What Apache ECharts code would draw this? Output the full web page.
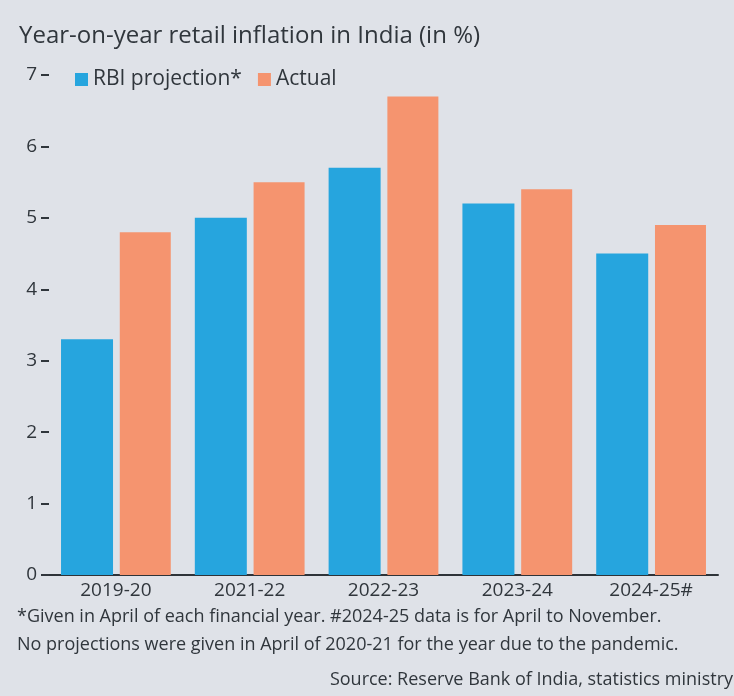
<!DOCTYPE html>
<html>
<head>
<meta charset="utf-8">
<script src="https://cdn.jsdelivr.net/npm/echarts@6/dist/echarts.min.js"></script>
<style>
  html, body { margin: 0; padding: 0; background: #dfe2e8; }
  #chart { width: 734px; height: 696px; }
</style>
</head>
<body>
<div id="chart"></div>
<script>
// Financial years shown on the category axis
const years = ['2019-20', '2021-22', '2022-23', '2023-24', '2024-25#'];
// CPI inflation projected by the RBI in April of each year (%)
const rbiProjection = [3.3, 5.0, 5.7, 5.2, 4.5];
// Actual year-on-year retail inflation (%)
const actual = [4.8, 5.5, 6.7, 5.4, 4.9];
// Y-axis tick values
const yTicks = [0, 1, 2, 3, 4, 5, 6, 7];

const FONT = '"Open Sans", "Noto Sans", sans-serif';
const TEXT = '#30363c';

const chart = echarts.init(document.getElementById('chart'), null, { renderer: 'canvas' });

chart.setOption({
  backgroundColor: '#dfe2e8',
  animation: false,
  title: {
    text: 'Year-on-year retail inflation in India (in %)',
    left: 14,
    top: 19,
    textStyle: { fontFamily: FONT, fontSize: 24, fontWeight: 'normal', color: TEXT }
  },
  legend: {
    left: 70,
    top: 64,
    itemWidth: 13,
    itemHeight: 13,
    itemGap: 16,
    icon: 'rect',
    textStyle: { fontFamily: FONT, fontSize: 21, color: TEXT },
    data: ['RBI projection*', 'Actual']
  },
  grid: { left: 49, right: 16, top: 75, bottom: 121 },
  xAxis: {
    type: 'category',
    data: years,
    axisLine: { lineStyle: { color: '#2e3338', width: 2 } },
    axisTick: { show: false },
    axisLabel: { fontFamily: FONT, fontSize: 19, color: TEXT, margin: 6 }
  },
  yAxis: {
    type: 'value',
    min: yTicks[0],
    max: yTicks[yTicks.length - 1],
    interval: 1,
    splitLine: { show: false },
    axisLine: { show: false },
    axisTick: { show: true, length: 8, lineStyle: { color: TEXT, width: 2 } },
    axisLabel: { fontFamily: FONT, fontSize: 19, color: TEXT, margin: 12 }
  },
  series: [
    {
      name: 'RBI projection*',
      type: 'bar',
      data: rbiProjection,
      barWidth: 52,
      barGap: '13%',
      itemStyle: { color: '#26a5de' }
    },
    {
      name: 'Actual',
      type: 'bar',
      data: actual,
      barWidth: 51,
      itemStyle: { color: '#f5946f' }
    }
  ],
  graphic: [
    {
      type: 'text',
      x: 17,
      y: 617,
      style: {
        text: '*Given in April of each financial year. #2024-25 data is for April to November.',
        font: '18px ' + FONT,
        fill: TEXT,
        verticalAlign: 'middle'
      }
    },
    {
      type: 'text',
      x: 17,
      y: 645,
      style: {
        text: 'No projections were given in April of 2020-21 for the year due to the pandemic.',
        font: '18px ' + FONT,
        fill: TEXT,
        verticalAlign: 'middle'
      }
    },
    {
      type: 'text',
      x: 733,
      y: 680,
      style: {
        text: 'Source: Reserve Bank of India, statistics ministry',
        font: '18px ' + FONT,
        fill: TEXT,
        align: 'right',
        verticalAlign: 'middle'
      }
    }
  ]
});
</script>
</body>
</html>
